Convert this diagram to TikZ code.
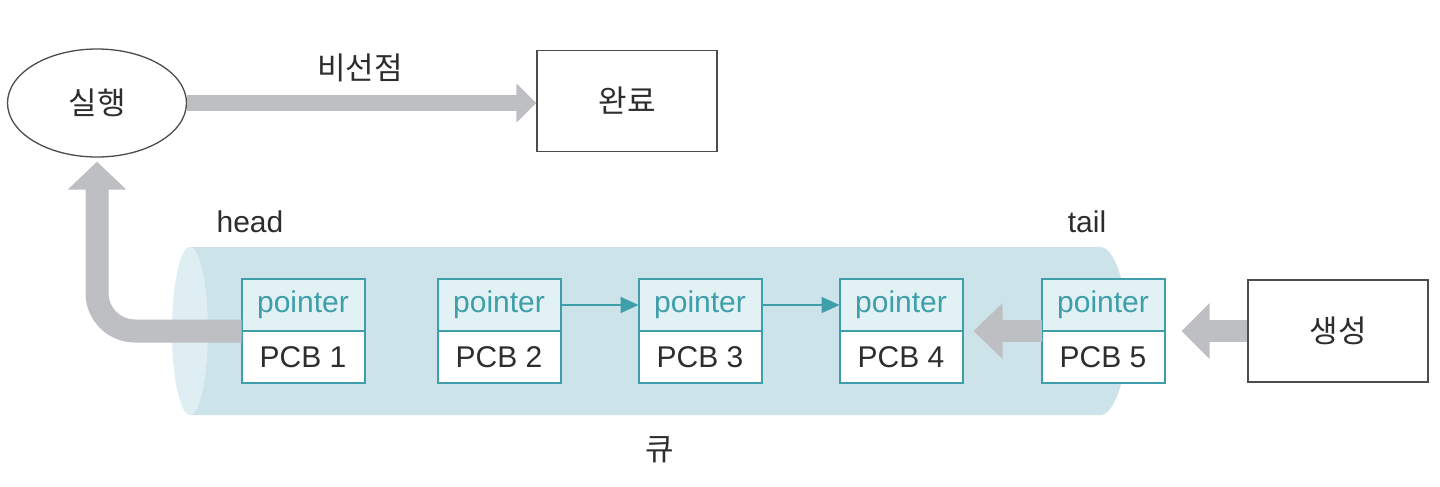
\documentclass[tikz,border=0pt]{standalone}
\usepackage{fontspec}
\setmainfont{Liberation Sans}
\newfontfamily\kr{Noto Sans CJK KR}
\usepackage{tikz}
\usetikzlibrary{positioning,shapes.geometric,arrows.meta}
\definecolor{qbody}{RGB}{203,227,233}
\definecolor{qface}{RGB}{222,238,242}
\definecolor{ptrfill}{RGB}{226,241,244}
\definecolor{tealline}{RGB}{62,158,170}
\definecolor{arrgray}{RGB}{190,191,195}
\definecolor{txt}{RGB}{45,45,45}

\begin{document}
\begin{tikzpicture}[x=1pt,y=-1pt,
  font=\fontsize{30}{36}\selectfont, text=txt,
  krtext/.style={font=\kr\fontsize{31}{36}\selectfont},
  ptr/.style={draw=tealline, line width=2pt, fill=ptrfill, text=tealline,
    minimum width=123pt, minimum height=52pt, inner sep=0pt, outer sep=0pt},
  pcb/.style={ptr, fill=white, text=txt},
  plainbox/.style={draw=black!70, line width=1.3pt, fill=white,
    minimum width=180pt, minimum height=101pt, krtext},
  bigarrow/.style={draw=arrgray, line width=23pt, -{Triangle[width=57pt,length=28pt]}},
  link/.style={draw=tealline, line width=1.6pt, -{Triangle[width=16pt,length=18pt]}}]
  \useasboundingbox (0,0) rectangle (1440,487);

  % queue cylinder
  \fill[qbody] (190,247) -- (1100,247) arc[start angle=-90,end angle=90,x radius=27,y radius=84] -- (190,415) -- cycle;
  \fill[qface] (190,331) ellipse[x radius=18,y radius=84];

  \node[ellipse, draw=black!70, line width=1.3pt, fill=white,
    minimum width=179pt, minimum height=108pt, krtext] (run) at (97,103) {실행};
  \node[plainbox] (done) at (627,101) {완료};
  \node[plainbox, minimum height=102pt] (gen) at (1338,331) {생성};

  \foreach \i/\x in {1/303,2/499,3/700,4/901,5/1103} {
    \node[ptr] (ptr\i) at (\x,305) {pointer};
    \node[pcb, below=0pt of ptr\i] (pcb\i) {PCB \i};
  }

  \node[krtext] (lblpre) at (360,68) {비선점};
  \node (lblhead) at (250,222) {head};
  \node (lbltail) at (1087,222) {tail};
  \node[krtext] (lblq) at (660,450) {큐};

  % arrows
  \draw[bigarrow, line width=16pt, -{Triangle[width=38pt,length=20pt]}] (run.east) -- (run.east -| done.west);
  \draw[bigarrow, rounded corners=38pt, shorten >=4pt] (ptr1.south west) -| (run.south);
  \draw[bigarrow, line width=22pt, -{Triangle[width=54pt,length=29pt]}, shorten >=11pt] (ptr5.south west) -- (ptr4.south east);
  \draw[bigarrow, line width=22pt, -{Triangle[width=54pt,length=28pt]}, shorten >=17pt] (gen.west) -- (ptr5.south east);
  \draw[link] (ptr2.east) -- (ptr3.west);
  \draw[link] (ptr3.east) -- (ptr4.west);
\end{tikzpicture}
\end{document}
